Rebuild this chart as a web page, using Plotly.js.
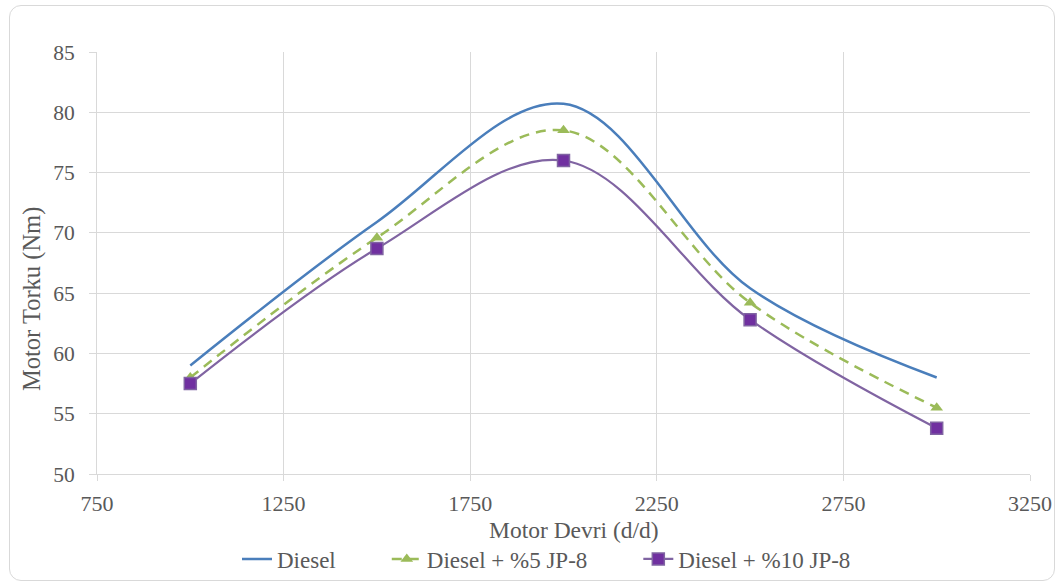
<!DOCTYPE html>
<html>
<head>
<meta charset="utf-8">
<script src="https://cdn.plot.ly/plotly-3.0.1.min.js"></script>
<style>
  html, body { margin: 0; padding: 0; background: #ffffff; }
  #frame { position: absolute; left: 9px; top: 5px; width: 1046px; height: 576px; border: 1px solid #d9d9d9; border-radius: 12px; box-sizing: border-box; }
  #chart { position: absolute; left: 0; top: 0; width: 1059px; height: 586px; }
</style>
</head>
<body>
<div id="frame"></div>
<div id="chart"></div>
<script>
const rpm = [1000, 1500, 2000, 2500, 3000];
const diesel = [59.0, 70.9, 80.7, 65.4, 58.0];
const jp5 = [58.0, 69.6, 78.5, 64.2, 55.5];
const jp10 = [57.5, 68.7, 76.0, 62.8, 53.8];
const seriesNames = ['Diesel', 'Diesel + %5 JP-8', 'Diesel + %10 JP-8'];
const xTicks = [750, 1250, 1750, 2250, 2750, 3250];
const yTicks = [50, 55, 60, 65, 70, 75, 80, 85];
const xTitle = 'Motor Devri (d/d)';
const yTitle = 'Motor Torku (Nm)';

const font = 'Liberation Serif, Times New Roman, serif';
const grey = '#595959';
const pad = '\u00a0'.repeat(8);

const traces = [
  {
    x: rpm, y: diesel, name: seriesNames[0] + pad, type: 'scatter', mode: 'lines',
    line: {color: '#4a7ebb', width: 2.5, shape: 'spline', smoothing: 1}
  },
  {
    x: rpm, y: jp5, name: seriesNames[1] + pad, type: 'scatter', mode: 'lines+markers',
    line: {color: '#9bbb59', width: 2.5, dash: '10px,7px', shape: 'spline', smoothing: 1},
    marker: {symbol: 'triangle-up', size: 11, color: '#9bbb59'}
  },
  {
    x: rpm, y: jp10, name: seriesNames[2], type: 'scatter', mode: 'lines+markers',
    line: {color: '#8064a2', width: 2.2, shape: 'spline', smoothing: 1},
    marker: {symbol: 'square', size: 12, color: '#7030a0', line: {color: '#8064a2', width: 1.5}}
  }
];

// plot area: x 97..1030, y 52..474
const plotL = 97, plotW = 933, plotT = 52, plotH = 422;

const layout = {
  width: 1059, height: 586,
  paper_bgcolor: 'rgba(0,0,0,0)', plot_bgcolor: 'rgba(0,0,0,0)',
  margin: {l: plotL, r: 1059 - plotL - plotW, t: plotT, b: 586 - plotT - plotH, autoexpand: false},
  font: {family: font, color: grey, size: 21},
  showlegend: true,
  legend: {orientation: 'h', xref: 'container', yref: 'container', x: 237 / 1059, xanchor: 'left',
           y: 1 - 559 / 586, yanchor: 'middle', borderwidth: 0,
           font: {family: font, size: 23, color: grey}, tracegroupgap: 0},
  xaxis: {
    range: [750, 3250], tickvals: xTicks, ticktext: xTicks.map(String), automargin: false,
    showgrid: true, gridcolor: '#d9d9d9', gridwidth: 1,
    zeroline: false, showline: true, linecolor: '#d9d9d9', linewidth: 1,
    ticks: 'outside', ticklen: 6, tickcolor: '#d9d9d9', ticklabelstandoff: 4,
    tickfont: {family: font, size: 22, color: grey}
  },
  yaxis: {
    range: [50, 85], tickvals: yTicks, ticktext: yTicks.map(String), automargin: false,
    showgrid: true, gridcolor: '#d9d9d9', gridwidth: 1,
    zeroline: false, showline: true, linecolor: '#d9d9d9', linewidth: 1,
    ticks: 'outside', ticklen: 7, tickcolor: '#d9d9d9', ticklabelstandoff: 10,
    tickfont: {family: font, size: 21.5, color: grey}
  },
  annotations: [
    {text: xTitle, xref: 'paper', yref: 'paper', x: (574 - plotL) / plotW, y: (plotT + plotH - 530) / plotH,
     xanchor: 'center', yanchor: 'middle', showarrow: false, font: {family: font, size: 23.5, color: grey}},
    {text: yTitle, xref: 'paper', yref: 'paper', x: (32 - plotL) / plotW, y: (plotT + plotH - 299) / plotH,
     xanchor: 'center', yanchor: 'middle', textangle: -90, showarrow: false, font: {family: font, size: 24.5, color: grey}}
  ]
};

Plotly.newPlot('chart', traces, layout, {displayModeBar: false, staticPlot: true});
</script>
</body>
</html>
